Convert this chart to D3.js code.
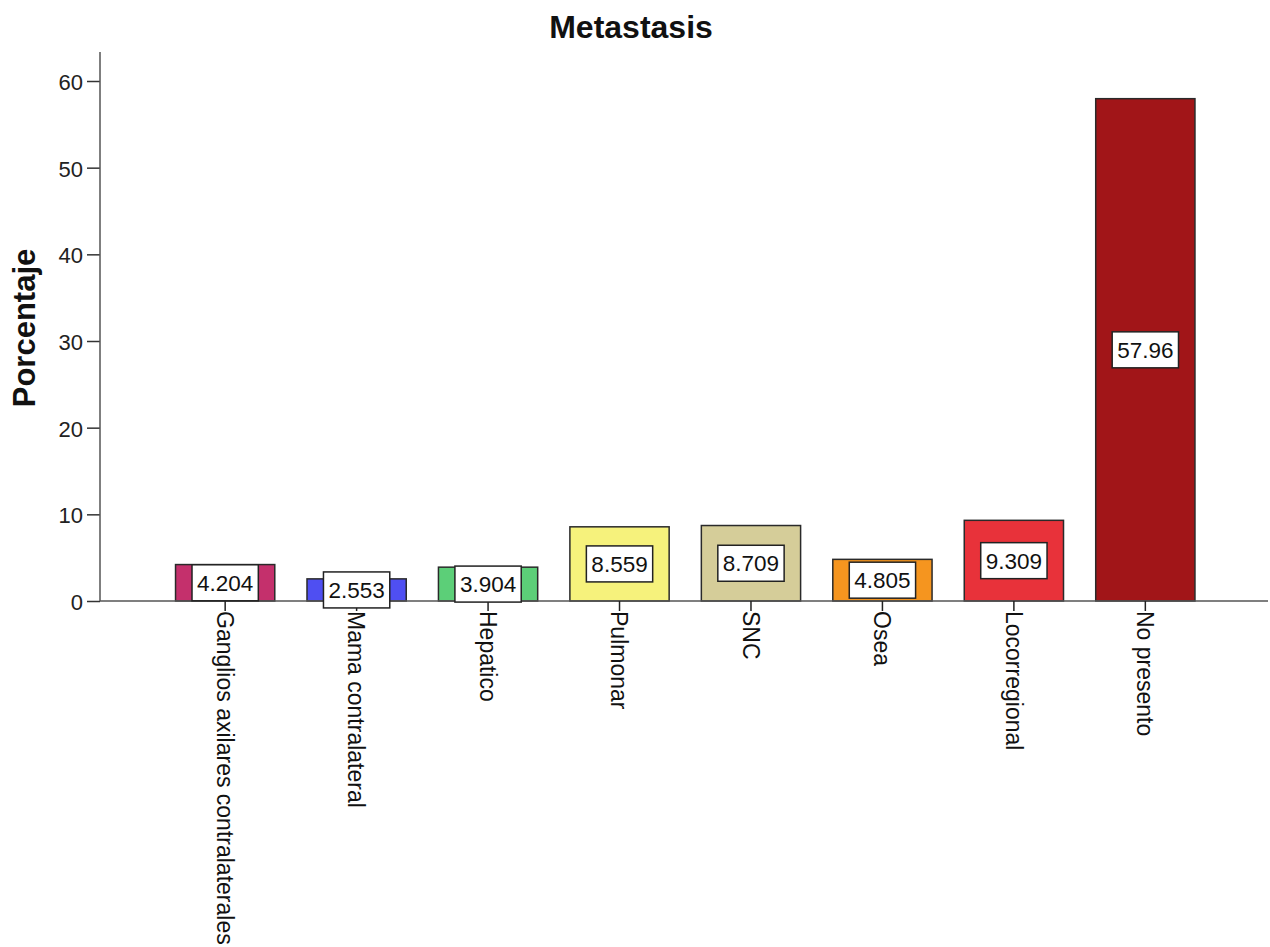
<!DOCTYPE html>
<html>
<head>
<meta charset="utf-8">
<script src="https://cdn.jsdelivr.net/npm/d3@7"></script>
<style>
  html, body { margin: 0; padding: 0; background: #fff; }
  svg { display: block; font-family: Arial, "Liberation Sans", sans-serif; }
</style>
</head>
<body>
<svg id="chart" width="1270" height="947"></svg>
<script>
// Metastasis sites, percentage of cases
const categories = [
  "Ganglios axilares contralaterales",
  "Mama contralateral",
  "Hepatico",
  "Pulmonar",
  "SNC",
  "Osea",
  "Locorregional",
  "No presento"
];
const percentages = [4.204, 2.553, 3.904, 8.559, 8.709, 4.805, 9.309, 57.96];
const barColors = ["#c4306c", "#4f4ff2", "#5ccf78", "#f6f27c", "#d5cd99", "#f5951f", "#e8323a", "#a11518"];
const yTicks = [0, 10, 20, 30, 40, 50, 60];

const svg = d3.select("#chart");
const axisX = 100, baseY = 601;
const fontFam = "Arial, 'Liberation Sans', sans-serif";

const x = d3.scaleBand()
  .domain(categories)
  .range([159.5, 1211])
  .paddingInner(0.245)
  .paddingOuter(0.122);

const y = d3.scaleLinear()
  .domain([0, 60])
  .range([baseY, 81]);

// Title
svg.append("text")
  .attr("x", 631).attr("y", 38)
  .attr("text-anchor", "middle")
  .attr("font-weight", "bold")
  .attr("font-size", 32)
  .attr("fill", "#111")
  .text("Metastasis");

// Y axis title
svg.append("text")
  .attr("transform", `translate(35,328) rotate(-90)`)
  .attr("text-anchor", "middle")
  .attr("font-weight", "bold")
  .attr("font-size", 31)
  .attr("fill", "#111")
  .text("Porcentaje");

// Y axis
const yAxis = svg.append("g")
  .attr("transform", `translate(${axisX},0)`)
  .call(d3.axisLeft(y).tickValues(yTicks).tickSize(13).tickPadding(4).tickFormat(d3.format("d")));
yAxis.select(".domain").remove();
yAxis.append("line")
  .attr("x1", 0).attr("x2", 0)
  .attr("y1", 52).attr("y2", baseY)
  .attr("stroke", "#555").attr("stroke-width", 1.5);
yAxis.selectAll(".tick line").attr("stroke", "#333").attr("stroke-width", 1.5);
yAxis.selectAll(".tick text")
  .attr("font-size", 22).attr("fill", "#222")
  .attr("font-family", fontFam)
  .attr("dy", "0.38em");

// Bars
svg.append("g").selectAll("rect")
  .data(categories)
  .join("rect")
  .attr("x", d => x(d))
  .attr("width", x.bandwidth())
  .attr("y", (d, i) => y(percentages[i]))
  .attr("height", (d, i) => y(0) - y(percentages[i]))
  .attr("fill", (d, i) => barColors[i])
  .attr("stroke", "#2a2a2a")
  .attr("stroke-width", 1.5);

// X axis baseline
svg.append("line")
  .attr("x1", axisX).attr("x2", 1268)
  .attr("y1", baseY).attr("y2", baseY)
  .attr("stroke", "#555").attr("stroke-width", 1.5);

// Category ticks and rotated labels
const xAxis = svg.append("g")
  .attr("transform", `translate(0,${baseY})`)
  .call(d3.axisBottom(x).tickSize(10).tickPadding(0));
xAxis.select(".domain").remove();
xAxis.selectAll(".tick line").attr("stroke", "#222").attr("stroke-width", 1.5);
xAxis.selectAll(".tick text")
  .attr("font-size", 23).attr("fill", "#111")
  .attr("font-family", fontFam)
  .attr("text-anchor", "start")
  .attr("transform", "rotate(90)")
  .attr("x", 10).attr("y", 0).attr("dy", "0.36em");

// Value labels in boxes at the middle of each bar
const fmt = d3.format(".4r");
const labels = svg.append("g").selectAll("g")
  .data(categories)
  .join("g")
  .attr("transform", (d, i) => `translate(${x(d) + x.bandwidth() / 2},${(y(percentages[i]) + y(0)) / 2})`);

labels.append("rect").attr("class", "box");
labels.append("text")
  .attr("text-anchor", "middle")
  .attr("dy", "0.36em")
  .attr("font-size", 22.5)
  .attr("fill", "#111")
  .text((d, i) => fmt(percentages[i]));

labels.each(function () {
  const g = d3.select(this);
  const w = g.select("text").node().getComputedTextLength() + 10;
  g.select("rect.box")
    .attr("x", -w / 2).attr("y", -18)
    .attr("width", w).attr("height", 36)
    .attr("fill", "#fff")
    .attr("stroke", "#222").attr("stroke-width", 1.5);
});
</script>
</body>
</html>
